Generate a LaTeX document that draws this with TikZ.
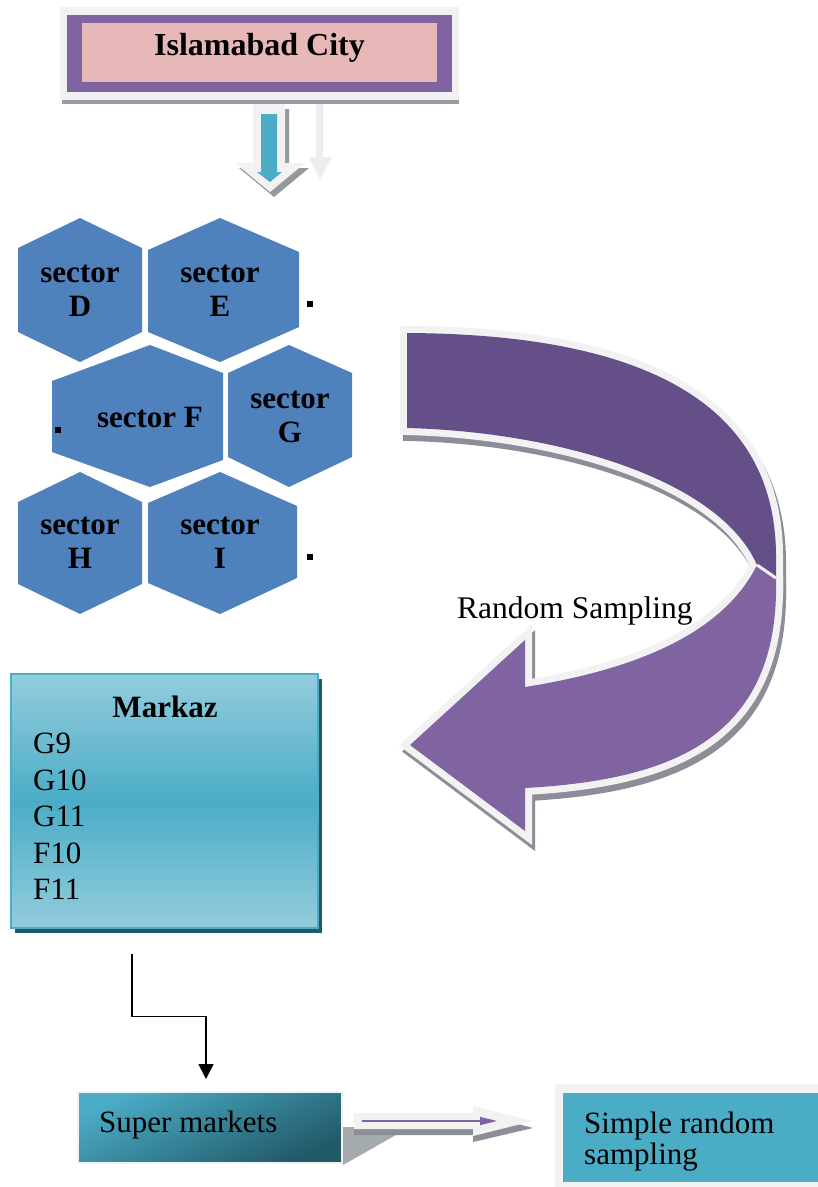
\documentclass[tikz,border=0pt]{standalone}
\usepackage{fontspec}
\setmainfont{Liberation Serif}
\usetikzlibrary{arrows.meta,calc}

\definecolor{hexblue}{HTML}{4F81BD}
\definecolor{frameviolet}{HTML}{8064A2}
\definecolor{darkviolet}{HTML}{654F88}
\definecolor{rosefill}{HTML}{E6B8B7}
\definecolor{paleframe}{HTML}{F2F2F2}
\definecolor{titleshadow}{HTML}{9C98A6}
\definecolor{aqua}{HTML}{4BACC6}
\definecolor{paleaqua}{HTML}{93CDDD}
\definecolor{deepaqua}{HTML}{215968}
\definecolor{ribbonshadow}{HTML}{8E8C96}
\definecolor{arrowshade}{HTML}{939A9E}
\definecolor{ghostgrey}{HTML}{EDEDED}
\definecolor{castgrey}{HTML}{A3ABAE}

\tikzset{
  hexlabel/.style={font=\fontsize{31}{34}\selectfont\bfseries, align=center, inner sep=0pt},
  bodytext/.style={font=\fontsize{31}{36.5}\selectfont, inner sep=0pt},
  boldtext/.style={font=\fontsize{31}{36}\selectfont\bfseries, inner sep=0pt},
  ribbonedge/.style={draw=paleframe, line width=14pt},
  ribbonshade/.style={fill=ribbonshadow, draw=ribbonshadow, line width=14pt},
  elbow/.style={line width=1.5pt, -{Triangle[length=15pt,width=15pt]}},
}

\begin{document}
\begin{tikzpicture}[x=1pt,y=-1pt,line join=miter]
\useasboundingbox[fill=white] (0,0) rectangle (818,1187);

% ---- title block ----
\fill[paleframe] (60,7) rectangle (459,100);
\fill[titleshadow] (62,100) rectangle (459,104);
\fill[frameviolet] (67,15) rectangle (452,92);
\node[fill=rosefill, minimum width=355pt, minimum height=59pt, inner sep=0pt] (city) at (259.5,52.5) {};
\node[anchor=base, font=\fontsize{32}{36}\selectfont\bfseries, inner sep=0pt] (citytext) at (259.5,55) {Islamabad City};

% ---- down arrows under the title ----
\begin{scope}[shift={(4,5)}]
  \fill[arrowshade] (253,104) -- (285,104) -- (285,163) -- (305,163) -- (270,192) -- (235,163) -- (253,163) -- cycle;
\end{scope}
\fill[paleframe] (253,104) -- (285,104) -- (285,163) -- (305,163) -- (270,192) -- (235,163) -- (253,163) -- cycle;
\fill[aqua] (261,114) -- (277,114) -- (277,172) -- (282,172) -- (270,182) -- (257,172) -- (261,172) -- cycle;
\fill[ghostgrey] (316,104) -- (323,104) -- (323,157) -- (332,157) -- (320,180) -- (309,157) -- (316,157) -- cycle;

% ---- sector hexagons ----
\fill[hexblue] (80,218) -- (142,248) -- (142,332) -- (80,362) -- (18,332) -- (18,248) -- cycle;
\fill[hexblue] (220,218) -- (299,252) -- (299,327) -- (220,362) -- (148,332) -- (148,250) -- cycle;
\fill[hexblue] (150,345) -- (223,373) -- (223,460) -- (150,487) -- (52,452) -- (52,381) -- cycle;
\fill[hexblue] (289,345) -- (352,373) -- (352,457) -- (289,487) -- (228,457) -- (228,373) -- cycle;
\fill[hexblue] (80,472) -- (142,502) -- (142,584) -- (80,614) -- (18,584) -- (18,502) -- cycle;
\fill[hexblue] (220,472) -- (297,506) -- (297,578) -- (220,614) -- (148,583) -- (148,503) -- cycle;

\node[hexlabel] (secD) at (80,290.5) {sector\\D};
\node[hexlabel] (secE) at (220,290.5) {sector\\E};
\node[hexlabel, anchor=base] (secF) at (150,427) {sector F};
\node[hexlabel] (secG) at (290,416.5) {sector\\G};
\node[hexlabel] (secH) at (80,542.5) {sector\\H};
\node[hexlabel] (secI) at (220,542.5) {sector\\I};

% stray bullet marks
\fill (307,301) rectangle (313,307);
\fill (55,427) rectangle (61,433);
\fill (307,554) rectangle (313,560);

% ---- curved ribbon arrow ----
\begin{scope}[shift={(3,6)}]
  \path[ribbonshade] (407,333) .. controls (620,334) and (778,390) .. (776,560) -- (776,578) -- (757,565)
      .. controls (720,480) and (560,432) .. (407,428) -- cycle;
  \path[ribbonshade] (757,565) -- (776,578) .. controls (780,740) and (670,780) .. (525,788) -- (525,831) -- (410,745)
      -- (525,640) -- (525,687) .. controls (620,672) and (720,640) .. (757,565) -- cycle;
\end{scope}
\path[ribbonedge] (407,333) .. controls (620,334) and (778,390) .. (776,560) -- (776,578) -- (757,565)
    .. controls (720,480) and (560,432) .. (407,428) -- cycle;
\path[ribbonedge] (757,565) -- (776,578) .. controls (780,740) and (670,780) .. (525,788) -- (525,831) -- (410,745)
    -- (525,640) -- (525,687) .. controls (620,672) and (720,640) .. (757,565) -- cycle;
\fill[darkviolet] (407,333) .. controls (620,334) and (778,390) .. (776,560) -- (776,578) -- (757,565)
    .. controls (720,480) and (560,432) .. (407,428) -- cycle;
\fill[frameviolet] (757,565) -- (776,578) .. controls (780,740) and (670,780) .. (525,788) -- (525,831) -- (410,745)
    -- (525,640) -- (525,687) .. controls (620,672) and (720,640) .. (757,565) -- cycle;
\draw[paleframe, line width=3pt] (757,565) -- (776,578);

\node[anchor=base west, font=\fontsize{31.5}{34}\selectfont, inner sep=0pt] (sampling) at (457,618) {Random Sampling};

% ---- Markaz list ----
\fill[deepaqua] (15,679) rectangle (322,933);
\node[draw=aqua, line width=1.5pt, minimum width=307pt, minimum height=254pt, inner sep=0pt,
      top color=paleaqua, bottom color=paleaqua, middle color=aqua] (markaz) at (164.5,801) {};
\node[boldtext, anchor=base] (markaztitle) at (165,717) {Markaz};
\node[bodytext, align=left, anchor=north west] (markazlist) at (33,733) {G9\\G10\\G11\\F10\\F11};

% ---- elbow connector ----
\coordinate (mkout) at (132,954);
\coordinate (smin) at (206,1079);
\draw[elbow] (mkout) |- ($(mkout)!0.5!(smin)$) -| (smin);

% ---- Super markets ----
\fill[castgrey] (343,1127) -- (410,1127) -- (343,1165) -- cycle;
\node[draw=paleframe, line width=2pt, minimum width=264pt, minimum height=71pt, inner sep=0pt,
      top color=aqua, bottom color=deepaqua, shading angle=25] (smk) at (210,1127.5) {};
\node[bodytext, anchor=base west] (smktext) at (99,1132) {Super markets};

% ---- block arrow towards simple random sampling ----
\fill[ribbonshadow] (354,1119) -- (473,1119) -- (473,1112) -- (533,1128) -- (473,1142) -- (473,1135) -- (354,1135) -- cycle;
\fill[paleframe] (354,1113) -- (473,1113) -- (473,1106) -- (533,1121) -- (473,1136) -- (473,1129) -- (354,1129) -- cycle;
\coordinate (flowstart) at (362,1121);
\coordinate (flowend) at (497,1121);
\draw[frameviolet, line width=1.3pt, -{Triangle[length=17pt,width=8pt]}] (flowstart) -- (flowend);

% ---- Simple random sampling ----
\fill[paleframe] (555,1084) rectangle (818,1187);
\node[fill=aqua, minimum width=259pt, minimum height=89pt, inner sep=0pt] (srs) at (692.5,1137.5) {};
\begin{scope}
  \clip (555,1084) rectangle (818,1171);
  \node[font=\fontsize{31}{31}\selectfont, inner sep=0pt, align=left, anchor=north west] (srstext) at (584,1112) {Simple random\\sampling};
\end{scope}
\end{tikzpicture}
\end{document}
